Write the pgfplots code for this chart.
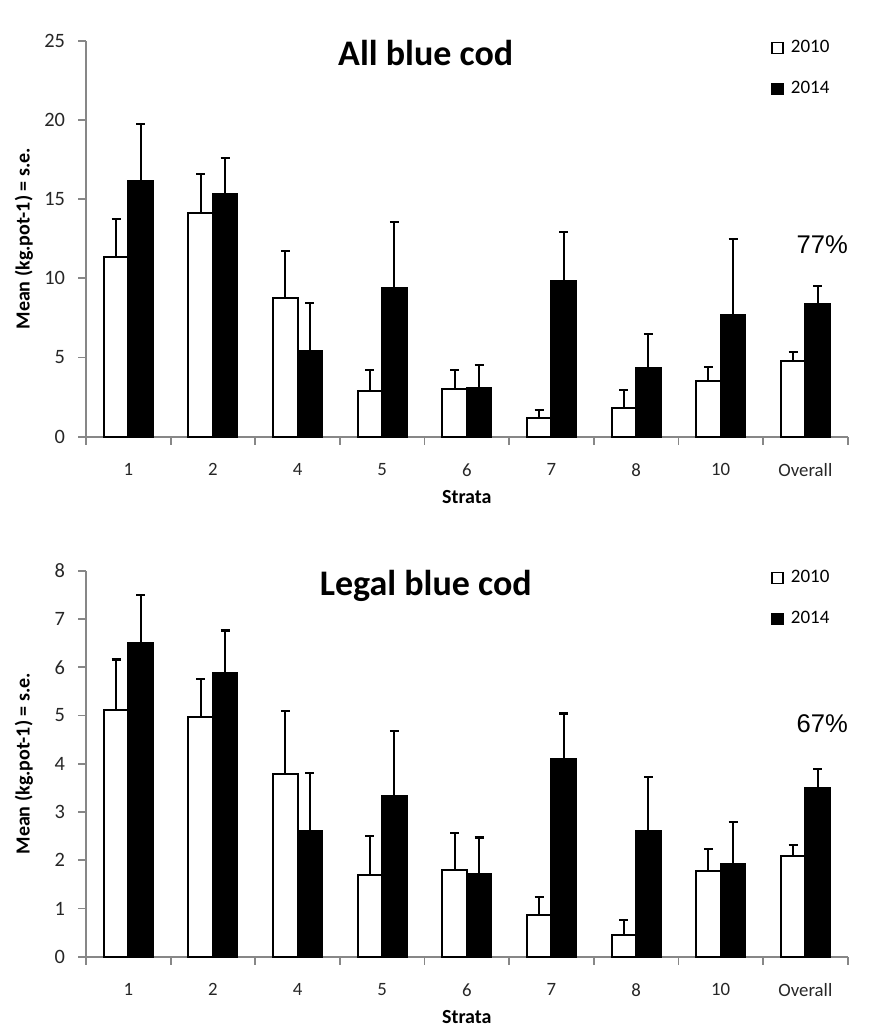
\documentclass[border=0pt]{standalone}
\usepackage{fontspec}
\setmainfont{Carlito}
\newfontfamily\arialfont{Liberation Sans}
\usepackage{pgfplots}
\usepackage{pgfplotstable}
\pgfplotsset{compat=1.18}
\definecolor{axisgray}{RGB}{135,135,135}

% All blue cod
\pgfplotstableread{
x y e
0 11.35 2.39
1 14.10 2.48
2 8.78 2.96
3 2.90 1.33
4 3.01 1.22
5 1.16 0.53
6 1.79 1.14
7 3.50 0.92
8 4.78 0.55
}\allA
\pgfplotstableread{
x y e
0 16.13 3.60
1 15.32 2.28
2 5.41 3.03
3 9.37 4.16
4 3.09 1.46
5 9.85 3.05
6 4.36 2.12
7 7.70 4.78
8 8.40 1.13
}\allB
% Legal blue cod
\pgfplotstableread{
x y e
0 5.11 1.05
1 4.96 0.80
2 3.79 1.31
3 1.69 0.81
4 1.80 0.76
5 0.86 0.38
6 0.45 0.31
7 1.78 0.45
8 2.09 0.23
}\legA
\pgfplotstableread{
x y e
0 6.50 0.99
1 5.88 0.88
2 2.60 1.20
3 3.33 1.34
4 1.71 0.76
5 4.09 0.95
6 2.60 1.13
7 1.92 0.87
8 3.49 0.40
}\legB

\pgfplotsset{
  cod/.style={
    scale only axis, width=380.85pt, anchor=south west,
    xmin=-0.5, xmax=8.5, ymin=0,
    axis x line*=bottom, axis y line*=left,
    axis line style={draw=axisgray, line width=0.9pt, -},
    tick style={draw=axisgray, line width=0.9pt},
    tick align=outside, major tick length=4pt,
    xtick={-0.5,0.5,...,8.5}, x tick label as interval,
    xticklabels={1,2,4,5,6,7,8,10,Overall},
    /pgf/number format/assume math mode=true,
    ticklabel style={text=black!85},
    yticklabel style={xshift=-3pt, font=\fontsize{10.2}{12}\selectfont},
    xticklabel style={yshift=-6pt, font=\fontsize{9.4}{11}\selectfont},
    xlabel={Strata},
    xlabel style={at={(axis description cs:0.5,0)}, anchor=base, yshift=-33.3pt, font=\bfseries\fontsize{10}{12}\selectfont},
    ylabel={Mean (kg.pot-1) = s.e.},
    ylabel style={at={(axis description cs:-0.0816,0.5)}, anchor=center, font=\bfseries\fontsize{10}{12}\selectfont},
    title style={at={(axis description cs:0.446,1)}, anchor=base, yshift=-18.5pt, font=\bfseries\fontsize{18}{21}\selectfont},
    ybar, bar width=0.29,
    legend style={at={(axis description cs:0.899,1.01)}, anchor=north west, draw=none, fill=none,
      font=\fontsize{9.5}{11}\selectfont, row sep=9.8pt, inner sep=0pt, nodes={inner sep=1.5pt},
      /tikz/every odd column/.append style={column sep=2.2pt}},
    legend cell align=left,
    clip=false,
  },
  sq/.style={legend image code/.code={\draw[##1, line width=0.7pt] (0pt,-2.75pt) rectangle (5.5pt,2.75pt);}},
  ebar/.style={error bars/.cd, y dir=plus, y explicit,
    error bar style={line width=1pt, black},
    error mark options={black, rotate=90, mark size=2.25pt, line width=1.1pt}},
}

\begin{document}
\begin{tikzpicture}
\path[use as bounding box] (0,0) rectangle (440pt,515pt);

\begin{axis}[cod, at={(43pt,296.65pt)}, height=198pt, ymax=25, ytick={0,5,...,25},
  title={All blue cod}]
\addplot[sq, draw=black, fill=white, line width=1pt, bar shift=-0.145, ebar]
  table[x=x, y=y, y error=e] {\allA};
\addlegendentry{2010}
\addplot[sq, draw=black, fill=black, line width=1pt, bar shift=0.145, ebar]
  table[x=x, y=y, y error=e] {\allB};
\addlegendentry{2014}
\node[font=\arialfont\fontsize{12.8}{15}\selectfont, anchor=base] at (axis cs:8.2,11.58) {77\%};
\end{axis}

\begin{axis}[cod, at={(43pt,36.65pt)}, height=193pt, ymax=8, ytick={0,1,...,8},
  title={Legal blue cod}]
\addplot[sq, draw=black, fill=white, line width=1pt, bar shift=-0.145, ebar]
  table[x=x, y=y, y error=e] {\legA};
\addlegendentry{2010}
\addplot[sq, draw=black, fill=black, line width=1pt, bar shift=0.145, ebar]
  table[x=x, y=y, y error=e] {\legB};
\addlegendentry{2014}
\node[font=\arialfont\fontsize{12.8}{15}\selectfont, anchor=base] at (axis cs:8.2,4.64) {67\%};
\end{axis}
\end{tikzpicture}
\end{document}
